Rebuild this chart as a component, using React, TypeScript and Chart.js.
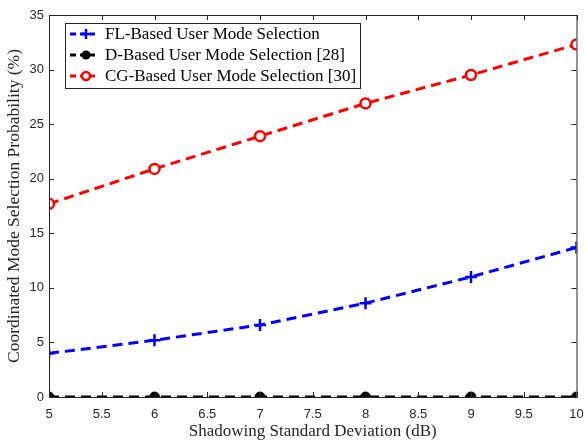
import React, { useEffect, useRef } from "react";
import { Chart, registerables } from "chart.js";

Chart.register(...registerables);

const xValues = [5, 6, 7, 8, 9, 10];
const flValues = [4.0, 5.2, 6.6, 8.6, 11.0, 13.7];
const dValues = [0, 0, 0, 0, 0, 0];
const cgValues = [17.7, 20.9, 23.9, 26.9, 29.5, 32.3];
const seriesLabels = [
  "FL-Based User Mode Selection",
  "D-Based User Mode Selection [28]",
  "CG-Based User Mode Selection [30]",
];
const xTitle = "Shadowing Standard Deviation (dB)";
const yTitle = "Coordinated Mode Selection Probability (%)";

const SERIF = "'Liberation Serif', 'Times New Roman', serif";
const SANS = "'Liberation Sans', Arial, sans-serif";

const boxPlugin = {
  id: "matlabBox",
  afterDatasetsDraw(chart: any) {
    const { ctx, chartArea: a, scales } = chart;
    ctx.save();
    ctx.strokeStyle = "#262626";
    ctx.lineWidth = 1;
    ctx.strokeRect(a.left + 0.5, a.top + 0.5, a.right - a.left, a.bottom - a.top);
    const tl = 5;
    ctx.beginPath();
    scales.x.ticks.forEach((t: any) => {
      const px = Math.round(scales.x.getPixelForValue(t.value)) + 0.5;
      ctx.moveTo(px, a.bottom);
      ctx.lineTo(px, a.bottom - tl);
      ctx.moveTo(px, a.top);
      ctx.lineTo(px, a.top + tl);
    });
    scales.y.ticks.forEach((t: any) => {
      const py = Math.round(scales.y.getPixelForValue(t.value)) + 0.5;
      ctx.moveTo(a.left, py);
      ctx.lineTo(a.left + tl, py);
      ctx.moveTo(a.right, py);
      ctx.lineTo(a.right - tl, py);
    });
    ctx.stroke();
    ctx.restore();
  },
};

const legendPlugin = {
  id: "matlabLegend",
  afterDraw(chart: any) {
    const { ctx } = chart;
    const x0 = 65, y0 = 23, w = 295, h = 65;
    ctx.save();
    ctx.fillStyle = "#ffffff";
    ctx.fillRect(x0, y0, w, h);
    ctx.strokeStyle = "#262626";
    ctx.lineWidth = 1;
    ctx.strokeRect(x0 + 0.5, y0 + 0.5, w, h);
    chart.data.datasets.forEach((ds: any, i: number) => {
      const cy = 34 + i * 21;
      ctx.strokeStyle = ds.borderColor;
      ctx.lineWidth = 3;
      ctx.setLineDash([6, 4]);
      ctx.beginPath();
      ctx.moveTo(70, cy);
      ctx.lineTo(95, cy);
      ctx.stroke();
      ctx.setLineDash([]);
      const mx = 86;
      if (ds.pointStyle === "cross") {
        ctx.lineWidth = 2.5;
        ctx.beginPath();
        ctx.moveTo(mx - 5, cy);
        ctx.lineTo(mx + 5, cy);
        ctx.moveTo(mx, cy - 5);
        ctx.lineTo(mx, cy + 5);
        ctx.stroke();
      } else if (ds.pointBackgroundColor === "#000000") {
        ctx.fillStyle = "#000000";
        ctx.beginPath();
        ctx.arc(mx, cy, 4.5, 0, Math.PI * 2);
        ctx.fill();
      } else {
        ctx.fillStyle = "#ffffff";
        ctx.lineWidth = 2.5;
        ctx.beginPath();
        ctx.arc(mx, cy, 4, 0, Math.PI * 2);
        ctx.fill();
        ctx.stroke();
      }
      ctx.fillStyle = "#000000";
      ctx.font = `17px ${SERIF}`;
      ctx.textBaseline = "middle";
      ctx.textAlign = "left";
      ctx.fillText(ds.label, 105, cy + 1);
    });
    ctx.restore();
  },
};

export default function App() {
  const ref = useRef<HTMLCanvasElement | null>(null);
  useEffect(() => {
    if (!ref.current) return;
    const mk = (vals: number[]) => xValues.map((x, i) => ({ x, y: vals[i] }));
    const chart = new Chart(ref.current, {
      type: "line",
      data: {
        datasets: [
          {
            label: seriesLabels[0],
            data: mk(flValues),
            borderColor: "#0000ff",
            borderWidth: 3,
            borderDash: [10, 6],
            pointStyle: "cross",
            pointRadius: 6,
            pointBorderWidth: 2.5,
            pointBorderColor: "#0000ff",
            pointBackgroundColor: "#0000ff",
            fill: false,
          },
          {
            label: seriesLabels[1],
            data: mk(dValues),
            borderColor: "#000000",
            borderWidth: 3,
            borderDash: [10, 6],
            pointStyle: "circle",
            pointRadius: 5,
            pointBorderWidth: 1,
            pointBorderColor: "#000000",
            pointBackgroundColor: "#000000",
            fill: false,
          },
          {
            label: seriesLabels[2],
            data: mk(cgValues),
            borderColor: "#ff0000",
            borderWidth: 3,
            borderDash: [10, 6],
            pointStyle: "circle",
            pointRadius: 5,
            pointBorderWidth: 2.5,
            pointBorderColor: "#ff0000",
            pointBackgroundColor: "#ffffff",
            fill: false,
          },
        ],
      },
      options: {
        animation: false,
        responsive: false,
        maintainAspectRatio: false,
        layout: { padding: { left: 0, right: 8, top: 15, bottom: 0 } },
        plugins: { legend: { display: false }, tooltip: { enabled: false } },
        scales: {
          x: {
            type: "linear",
            min: 5,
            max: 10,
            grid: { display: false, drawTicks: false },
            border: { display: false },
            ticks: {
              stepSize: 0.5,
              color: "#262626",
              font: { family: SANS, size: 13 },
              padding: 10,
              maxRotation: 0,
              callback: (v: any) => String(v),
            },
            title: {
              display: true,
              text: xTitle,
              color: "#262626",
              font: { family: SERIF, size: 17 },
              padding: { top: 0, bottom: 0 },
            },
            afterFit: (s: any) => {
              s.height = 45;
              s.paddingLeft = 0;
              s.paddingRight = 0;
            },
          },
          y: {
            type: "linear",
            min: 0,
            max: 35,
            grid: { display: false, drawTicks: false },
            border: { display: false },
            ticks: {
              stepSize: 5,
              color: "#262626",
              font: { family: SANS, size: 13 },
              padding: 5,
            },
            title: {
              display: true,
              text: yTitle,
              color: "#262626",
              font: { family: SERIF, size: 17.5 },
              padding: { top: 4, bottom: 0 },
            },
            afterFit: (s: any) => {
              s.width = 49;
              s.paddingTop = 0;
              s.paddingBottom = 0;
            },
          },
        },
      },
      plugins: [boxPlugin, legendPlugin],
    });
    return () => chart.destroy();
  }, []);
  return (
    <div style={{ position: "fixed", left: 0, top: 0, width: 585, height: 442, background: "#fff" }}>
      <canvas ref={ref} width={585} height={442} style={{ display: "block" }} />
    </div>
  );
}
